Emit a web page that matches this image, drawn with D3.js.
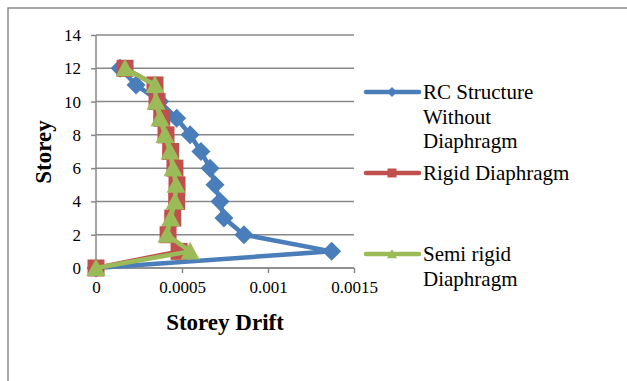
<!DOCTYPE html>
<html>
<head>
<meta charset="utf-8">
<script src="https://cdn.jsdelivr.net/npm/d3@7"></script>
<style>
  body { margin: 0; background: #fff; }
</style>
</head>
<body>
<svg id="chart" width="627" height="381"></svg>
<script>
// storeys and drift values
const storeys = [0, 1, 2, 3, 4, 5, 6, 7, 8, 9, 10, 11, 12];
const rcDrift = [0, 0.00137, 0.00086, 0.000744, 0.000721, 0.000692, 0.000663, 0.00061, 0.000547, 0.000469, 0.00037, 0.000233, 0.00014];
const rigidDrift = [0, 0.000483, 0.000419, 0.000446, 0.000469, 0.000471, 0.000459, 0.000434, 0.000407, 0.000382, 0.000355, 0.000343, 0.000169];
const semiDrift = [0, 0.000547, 0.000413, 0.000434, 0.000459, 0.000465, 0.000448, 0.00043, 0.000401, 0.000372, 0.000349, 0.000343, 0.000169];
const xTicks = [0, 0.0005, 0.001, 0.0015];
const yTicks = [0, 2, 4, 6, 8, 10, 12, 14];

const FONT = '"Liberation Serif", "Times New Roman", "DejaVu Serif", serif';

// excel-like markers, r = half size
const markers = {
  diamond: r => `M0,${-r}L${r},0L0,${r}L${-r},0Z`,
  square: r => `M${-r},${-r}H${r}V${r}H${-r}Z`,
  triangle: r => `M0,${-r}L${r},${r * 0.85}L${-r},${r * 0.85}Z`
};

const series = [
  { name: ['RC Structure', 'Without', 'Diaphragm'], values: rcDrift, color: '#4a7ebb', marker: 'diamond', r: 9.5, lr: 5 },
  { name: ['Rigid Diaphragm'], values: rigidDrift, color: '#c0504d', marker: 'square', r: 8.5, lr: 4.5 },
  { name: ['Semi rigid', 'Diaphragm'], values: semiDrift, color: '#9bbb59', marker: 'triangle', r: 9.5, lr: 5 }
];

const svg = d3.select('#chart').style('font-family', FONT);

// outer frame (runs off the right and bottom edges like the picture)
svg.append('rect')
  .attr('x', 8).attr('y', 8)
  .attr('width', 700).attr('height', 500)
  .attr('fill', 'none')
  .attr('stroke', '#8c8c8c')
  .attr('stroke-width', 1.5);

const plotL = 96, plotR = 354, plotT = 35, plotB = 268;

const x = d3.scaleLinear().domain([0, 0.0015]).range([plotL, plotR]);
const y = d3.scaleLinear().domain([0, 14]).range([plotB, plotT]);

// grid
svg.append('g')
  .selectAll('line')
  .data(yTicks)
  .enter()
  .append('line')
  .attr('x1', plotL).attr('x2', plotR)
  .attr('y1', d => y(d)).attr('y2', d => y(d))
  .attr('stroke', '#888')
  .attr('stroke-width', 1.5);

const yAxis = svg.append('g')
  .attr('transform', `translate(${plotL},0)`)
  .call(d3.axisLeft(y).tickValues(yTicks).tickSize(5).tickPadding(10).tickFormat(d3.format('d')));

const xAxis = svg.append('g')
  .attr('transform', `translate(0,${plotB})`)
  .call(d3.axisBottom(x).tickValues(xTicks).tickSize(5).tickPadding(8).tickFormat(d => d === 0 ? '0' : String(d)));

[yAxis, xAxis].forEach(a => {
  a.attr('font-family', FONT).attr('font-size', 17);
  a.select('.domain').attr('stroke', '#888').attr('stroke-width', 1.5);
  a.selectAll('.tick line').attr('stroke', '#888').attr('stroke-width', 1.5);
  a.selectAll('.tick text').attr('fill', '#000');
});
// plain axis lines without the outer ticks
yAxis.select('.domain').attr('d', `M0,${y(0)}V${y(14)}`);
xAxis.select('.domain').attr('d', `M${x(0)},0H${x(0.0015)}`);

const line = d3.line()
  .x(d => x(d[0]))
  .y(d => y(d[1]));

series.forEach(s => {
  const pts = s.values.map((v, i) => [v, storeys[i]]);
  const g = svg.append('g');
  g.append('path')
    .attr('d', line(pts))
    .attr('fill', 'none')
    .attr('stroke', s.color)
    .attr('stroke-width', 4.5)
    .attr('stroke-linejoin', 'round');
  g.selectAll('path.mark')
    .data(pts)
    .enter()
    .append('path')
    .attr('class', 'mark')
    .attr('transform', d => `translate(${x(d[0])},${y(d[1])})`)
    .attr('d', markers[s.marker](s.r))
    .attr('fill', s.color);
});

// legend
const legendY = [92, 173, 254];
series.forEach((s, i) => {
  const g = svg.append('g').attr('transform', `translate(0,${legendY[i]})`);
  g.append('line')
    .attr('x1', 366).attr('x2', 419)
    .attr('y1', 0).attr('y2', 0)
    .attr('stroke', s.color)
    .attr('stroke-width', 4.5)
    .attr('stroke-linecap', 'round');
  g.append('path')
    .attr('transform', 'translate(392,0)')
    .attr('d', markers[s.marker](s.lr))
    .attr('fill', s.color);
  s.name.forEach((t, j) => {
    g.append('text')
      .attr('x', 423)
      .attr('y', j * 24.5)
      .attr('dy', '0.35em')
      .attr('font-size', 21)
      .attr('font-family', FONT)
      .text(t);
  });
});

// axis titles
svg.append('text')
  .attr('x', (plotL + plotR) / 2)
  .attr('y', 322)
  .attr('dy', '0.35em')
  .attr('text-anchor', 'middle')
  .attr('font-weight', 'bold')
  .attr('font-size', 23)
  .attr('font-family', FONT)
  .text('Storey Drift');

svg.append('text')
  .attr('transform', 'translate(43,152) rotate(-90)')
  .attr('dy', '0.35em')
  .attr('text-anchor', 'middle')
  .attr('font-weight', 'bold')
  .attr('font-size', 23)
  .attr('font-family', FONT)
  .text('Storey');
</script>
</body>
</html>
